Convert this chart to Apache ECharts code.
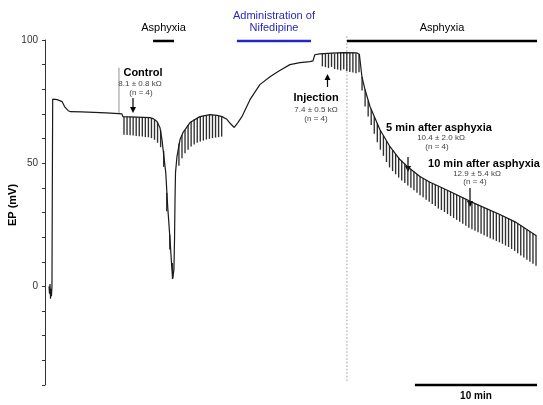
<!DOCTYPE html>
<html><head><meta charset="utf-8">
<script src="https://cdn.jsdelivr.net/npm/echarts@6/dist/echarts.min.js"></script>
<style>html,body{margin:0;padding:0;background:#fff}#c{width:543px;height:405px}</style>
</head><body><div id="c"></div>
<script>
// ---- data (time in min, EP in mV) ----
const yLabelTicks = [0, 50, 100];
const traceT = [0.33,0.37,0.41,0.45,0.49,0.53,0.57,0.6,0.63,0.7,1.0,1.4,1.6,1.9,2.1,3.0,4.0,5.0,6.04,6.3,6.38,7.5,8.6,8.9,9.17,9.42,9.58,9.89,10.05,10.24,10.38,10.47,10.56,10.61,10.65,10.69,10.81,11.06,11.3,11.88,12.69,13.51,14.1,14.5,14.9,15.2,15.5,15.8,16.13,16.79,17.6,18.43,19.1,19.3,20.06,20.88,21.7,21.95,22.1,22.5,23.5,24.5,25.5,25.75,25.96,26.21,26.62,27.44,28.26,29.07,29.65,30.71,31.5,33.17,35.05,37.26,38.5,40.25];
const traceV = [0,-3,1,-5,-1,-4,0,40,76,76.2,75.8,75,73,71.3,70.9,70.8,70.6,70.4,70.1,70.0,68.9,68.7,68.5,68.0,66.9,64.4,59.6,46.2,32.4,19.1,8.1,3.2,6.9,19.1,35.3,46.2,52.7,59.6,62.4,66.5,68.9,69.7,69.4,68.9,67.8,66.0,64.5,66.5,68.9,75.8,81.9,85.1,87.2,87.8,90,90.8,91.2,91.5,94,94.4,94.7,94.9,94.8,94.2,85.1,79.9,73,63.6,56.7,51.5,48.8,44.6,42.4,38.5,34,29.2,26.2,20.6];
// stimulus marker above the control trace: [time, from, to]
const controlMarker = [6.06, 70.1, 88.8];
// spikes: [time, top, bottom]
const spikesControl = [[6.47,68.9,61.6],[6.72,68.9,61.4],[6.97,68.8,61.3],[7.22,68.8,61.2],[7.47,68.7,61.0],[7.72,68.7,60.9],[7.97,68.6,60.8],[8.22,68.6,60.6],[8.47,68.5,60.5],[8.72,68.3,60.2],[8.97,67.8,59.5],[9.22,66.6,58.3],[9.47,63.5,56.5],[9.72,55.0,48.5],[9.97,38.0,30.5],[10.22,21.0,15.0],[10.44,9.5,3.0]];
const spikesRecovery = [[10.97,58.0,49.0],[11.22,61.5,52.0],[11.47,63.5,54.0],[11.72,65.5,55.5],[11.97,66.8,56.8],[12.22,67.8,57.6],[12.47,68.5,58.3],[12.72,68.9,58.8],[12.97,69.2,59.2],[13.22,69.5,59.6],[13.47,69.7,59.9],[13.72,69.6,60.2],[13.97,69.4,60.4],[14.22,69.2,60.6],[14.47,68.9,60.8]];
const spikesAsphyxia = [[22.72,94.4,89.3],[22.97,94.6,89.0],[23.22,94.3,88.6],[23.47,94.7,89.1],[23.72,94.5,88.2],[23.97,94.8,88.0],[24.22,95.0,87.6],[24.47,94.9,88.1],[24.72,95.1,87.4],[24.97,94.8,87.0],[25.22,95.0,86.8],[25.47,94.6,86.5],[25.72,94.2,86.9],[25.97,85.0,79.5],[26.22,79.8,73.0],[26.47,75.5,69.0],[26.72,72.0,65.5],[26.97,69.0,62.0],[27.22,66.2,58.5],[27.47,63.5,55.5],[27.72,61.2,53.0],[27.97,59.0,50.5],[28.22,57.0,48.3],[28.47,55.3,46.8],[28.72,53.7,45.5],[28.97,52.2,44.2],[29.22,51.0,43.0],[29.47,49.8,42.0],[29.72,48.6,41.0],[29.97,47.6,40.0],[30.22,46.6,39.0],[30.47,45.6,38.0],[30.72,44.8,37.0],[30.97,44.0,36.2],[31.22,43.2,35.2],[31.47,42.5,34.4],[31.72,41.8,33.4],[31.97,41.2,32.6],[32.22,40.6,31.6],[32.47,40.0,31.0],[32.72,39.5,30.2],[32.97,39.0,29.4],[33.22,38.4,28.6],[33.47,37.8,27.8],[33.72,37.2,27.0],[33.97,36.6,26.2],[34.22,36.0,25.4],[34.47,35.4,24.6],[34.72,34.8,23.8],[34.97,34.2,23.2],[35.22,33.6,22.6],[35.47,33.1,22.0],[35.72,32.6,21.4],[35.97,32.0,20.8],[36.22,31.5,20.2],[36.47,30.9,19.6],[36.72,30.4,19.0],[36.97,29.8,18.4],[37.22,29.3,17.9],[37.47,28.8,17.3],[37.72,28.2,16.6],[37.97,27.6,16.0],[38.22,27.0,15.2],[38.47,26.3,14.4],[38.72,25.5,13.5],[38.97,24.7,12.6],[39.22,23.9,11.7],[39.47,23.1,10.8],[39.72,22.3,10.0],[39.97,21.5,9.2],[40.22,20.7,8.4]];
const periodLabels = ['Asphyxia', 'Administration of\nNifedipine', 'Asphyxia'];
const periodStart = [8.85, 15.72, 24.73];
const periodEnd = [10.57, 21.79, 40.3];
const asphyxiaOnset = 24.73;
const scaleBarStart = 30.3, scaleBarLength = 10;

// ---- chart ----
const FONT = "'Liberation Sans', Arial, Helvetica, sans-serif";
const chart = echarts.init(document.getElementById('c'), null, {renderer: 'canvas'});
const traceData = traceT.map((t, i) => [t, traceV[i]]);
const allSpikes = spikesControl.concat(spikesRecovery, spikesAsphyxia);
const periodData = periodLabels.map((l, i) => [periodStart[i], periodEnd[i], i]);
const periodColors = ['#000', '#2626c8', '#000'];

function spikeItem(params, api) {
  const a = api.coord([api.value(0), api.value(1)]);
  const b = api.coord([api.value(0), api.value(2)]);
  return {type: 'line', shape: {x1: a[0], y1: a[1], x2: b[0], y2: b[1]},
    style: {stroke: '#303030', lineWidth: 1.35}};
}
function periodItem(params, api) {
  const i = api.value(2);
  const a = api.coord([api.value(0), 99.6]);
  const b = api.coord([api.value(1), 99.6]);
  return {type: 'group', children: [
    {type: 'line', shape: {x1: a[0], y1: a[1], x2: b[0], y2: b[1]},
      style: {stroke: periodColors[i], lineWidth: 2.5}},
    {type: 'text', x: (a[0] + b[0]) / 2, y: a[1] - 7,
      style: {text: periodLabels[i], fill: periodColors[i], font: '11px ' + FONT,
        align: 'center', verticalAlign: 'bottom', lineHeight: 12}}
  ]};
}

const option = {
  animation: false,
  grid: {left: 45, right: 6, top: 40, bottom: 20, containLabel: false},
  xAxis: {type: 'value', min: 0, max: 40.3, show: false},
  yAxis: {type: 'value', min: -40, max: 100, interval: 10,
    axisLine: {show: true, lineStyle: {color: '#333', width: 1}},
    axisTick: {show: true, length: 3, lineStyle: {color: '#333'}},
    splitLine: {show: false},
    axisLabel: {margin: 7, fontSize: 10, color: '#333', fontFamily: FONT,
      formatter: v => yLabelTicks.indexOf(v) >= 0 ? String(v) : ''}
  },
  series: [
    {type: 'line', data: [[asphyxiaOnset, 101.5], [asphyxiaOnset, -38.5]], symbol: 'none', clip: false,
      lineStyle: {color: '#9a9a9a', width: 1, type: [1.5, 2]}, silent: true, z: 1},
    {type: 'line', data: [[controlMarker[0], controlMarker[1]], [controlMarker[0], controlMarker[2]]], symbol: 'none',
      lineStyle: {color: '#777', width: 0.8}, z: 2},
    {type: 'line', data: traceData, symbol: 'none', clip: false,
      lineStyle: {color: '#1a1a1a', width: 1.2}, z: 3},
    {type: 'custom', data: allSpikes, renderItem: spikeItem, encode: {x: 0, y: [1, 2]}, clip: false, z: 2},
    {type: 'custom', data: periodData, renderItem: periodItem, encode: {x: [0, 1]}, clip: false, z: 4},
    {type: 'line', data: [[scaleBarStart, -40], [scaleBarStart + scaleBarLength, -40]], symbol: 'none', clip: false,
      lineStyle: {color: '#000', width: 2.5}, z: 4}
  ]
};
chart.setOption(option);

// ---- annotations ----
function arrow(x, yTail, yTip) {
  const dir = yTip > yTail ? 1 : -1;
  return {type: 'group', children: [
    {type: 'line', shape: {x1: x, y1: yTail, x2: x, y2: yTip - dir * 4}, style: {stroke: '#000', lineWidth: 1.2}},
    {type: 'polygon', shape: {points: [[x - 3, yTip - dir * 6], [x + 3, yTip - dir * 6], [x, yTip]]}, style: {fill: '#000'}}
  ]};
}
function txt(x, y, s, font, color) {
  return {type: 'text', x: x, y: y, style: {text: s, font: font, fill: color || '#000', align: 'center', verticalAlign: 'middle'}};
}
const B = 'bold 11px ' + FONT, S = '8px ' + FONT, G = '#444';
const p = v => chart.convertToPixel({gridIndex: 0}, v);
const sb0 = p([scaleBarStart, -40]), sb1 = p([scaleBarStart + scaleBarLength, -40]);
chart.setOption({graphic: [
  {type: 'text', x: 13, y: 205, rotation: Math.PI / 2,
    style: {text: 'EP (mV)', font: 'bold 11px ' + FONT, fill: '#000', align: 'center', verticalAlign: 'middle'}},
  txt(143, 73, 'Control', B), txt(140, 84, '8.1 ± 0.8 kΩ', S, G), txt(141, 93, '(n = 4)', S, G), arrow(133, 98, 113),
  txt(316, 98, 'Injection', B), txt(316, 110, '7.4 ± 0.5 kΩ', S, G), txt(316, 119, '(n = 4)', S, G), arrow(327.5, 87, 74),
  txt(439, 128, '5 min after asphyxia', B), txt(441, 138, '10.4 ± 2.0 kΩ', S, G), txt(437, 147, '(n = 4)', S, G), arrow(408, 157, 172),
  txt(484, 164, '10 min after asphyxia', B), txt(477, 174, '12.9 ± 5.4 kΩ', S, G), txt(475, 182, '(n = 4)', S, G), arrow(470, 188, 207),
  txt((sb0[0] + sb1[0]) / 2, 396, '10 min', 'bold 10px ' + FONT)
]});
</script></body></html>
